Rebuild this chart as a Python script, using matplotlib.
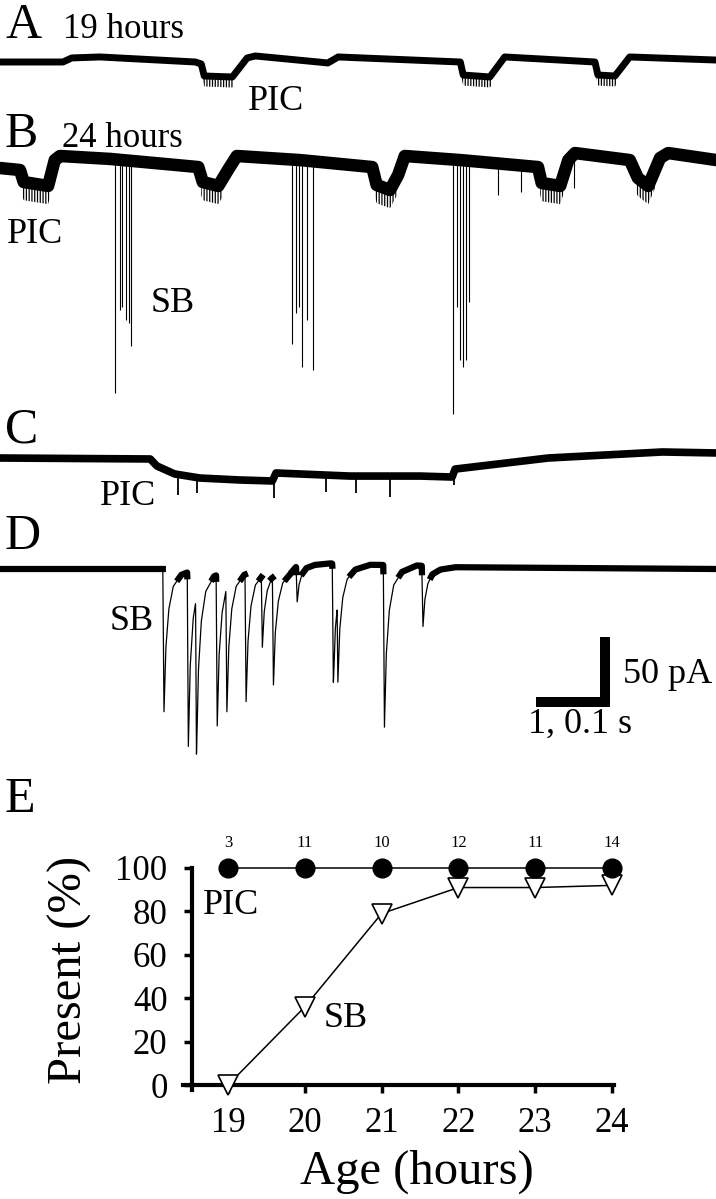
# 电生理记录 A-D 以及 E 中 PIC / SB 出现比例随发育时间的变化
import numpy as np
import matplotlib.pyplot as plt

plt.rcParams['font.family'] = ['Liberation Serif', 'DejaVu Serif']
plt.rcParams['hatch.linewidth'] = 0.9

W, H = 716, 1199          # 输出像素
PX_PA = 70 / 50.0         # 50 pA 竖条 = 70 px
PX_S = 74.0               # A-C: 1 s 横条 = 74 px
PX_MS = 0.74              # D: 0.1 s 横条 = 74 px

# ---------------- 数据 ----------------
# A 19 hours: 折线 (s, pA)
a_t = [0.00, 0.85, 0.97, 1.35, 2.64, 2.72, 2.76, 3.14, 3.34, 3.45, 4.30, 4.43, 4.57, 6.22, 6.26, 6.62, 6.82,
       8.04, 8.08, 8.31, 8.51, 9.68]
a_i = [0.0, 0.0, 2.9, 3.6, 0.0, -1.4, -10.0, -10.7, 2.9, 4.3, 0.0, -0.7, 3.6, 0.0, -9.3, -10.7, 3.6,
       0.0, -9.3, -10.0, 3.6, 1.4]
a_dips = [(2.73, 3.16), (6.23, 6.64), (8.05, 8.33)]

# B 24 hours: 基线折线 (s, pA)
b_t = [0.00, 0.27, 0.32, 0.65, 0.74, 0.81, 1.49, 2.68, 2.74, 2.95, 3.08, 3.20, 4.05, 5.03, 5.09, 5.27, 5.38, 5.47,
       6.22, 7.27, 7.32, 7.57, 7.68, 7.77, 8.51, 8.62, 8.76, 8.92, 9.03, 9.68]
b_i = [-3.6, -5.0, -13.6, -16.4, 2.1, 5.0, 2.9, -2.9, -13.6, -16.4, -5.0, 5.0, 2.1, -2.9, -15.7, -19.3, -8.6, 5.0,
       2.1, -2.9, -14.3, -16.4, 2.1, 7.1, 2.1, -10.7, -16.4, 3.6, 7.1, 2.1]
b_dips = [(0.30, 0.67), (2.72, 3.00), (5.07, 5.36), (7.30, 7.62), (8.60, 8.86)]
# B 中的 SB 尖峰 (s, 幅度 pA)
b_spike_t = [1.55, 1.62, 1.65, 1.70, 1.74, 1.77,
             3.95, 4.00, 4.04, 4.08, 4.15, 4.23,
             6.12, 6.18, 6.22, 6.26, 6.30, 6.34,
             6.73, 7.04, 7.76]
b_spike_amp = [164, 105, 103, 112, 114, 131,
               129, 107, 103, 146, 112, 148,
               179, 103, 141, 146, 141, 99,
               23, 21, 18]

# C: 折线 (s, pA) 和小尖峰 (s, 最低点 pA)
c_t = [0.00, 2.03, 2.12, 2.36, 2.70, 3.24, 3.68, 3.73, 4.73, 5.68, 6.11, 6.15, 7.41, 8.95, 9.68]
c_i = [0.0, -0.7, -5.7, -11.4, -14.3, -15.7, -16.4, -10.7, -12.9, -12.9, -13.6, -7.9, 0.0, 4.3, 3.6]
c_spike_t = [2.41, 2.66, 3.70, 4.41, 4.81, 5.27, 6.14]
c_spike_min = [-26.4, -25.0, -28.6, -24.3, -25.0, -27.9, -19.3]

# D: 基线 (ms, pA) 和 SB 事件 (ms, 幅度 pA)
d_base_t = [0, 392, 401, 446, 469, 513, 531, 567, 581, 968]
d_base_i = [0.0, 0.0, 4.0, 4.0, 3.0, 3.0, 2.5, 2.5, 1.4, 0.0]
d_ev_t = [220, 253, 264, 292, 305, 331, 353, 368, 400, 449, 455, 518, 570]
d_ev_amp = [104, 127, 134, 113, 104, 96, 56, 83, 28, 86, 86, 116, 44]
# 单个事件的形状 (ms, 相对幅度)
kern_t = [0, 1.5, 4, 8, 14, 25, 45]
kern_f = [0, 1.0, 0.55, 0.28, 0.12, 0.04, 0.0]

# E
ages = [19, 20, 21, 22, 23, 24]
pic_pct = [100, 100, 100, 100, 100, 100]
sb_pct = [0, 36, 79, 91, 91, 92]
n_cells = [3, 11, 10, 12, 11, 14]


def fx(x):
    return x / W


def fy(y):
    return 1 - y / H


def trace_ax(top, bottom, base, xmax):
    # 一条记录占整幅宽度, y 轴单位为 pA
    ax = fig.add_axes([0, 1 - bottom / H, 1, (bottom - top) / H])
    ax.set_xlim(0, xmax)
    ax.set_ylim(-(bottom - base) / PX_PA, (base - top) / PX_PA)
    ax.axis('off')
    return ax


def fuzz(ax, t, i, dips, depth):
    # PIC 平台段下方密集的小噪声, 用竖线阴影表示
    for t0, t1 in dips:
        tt = np.linspace(t0, t1, 60)
        yy = np.interp(tt, t, i)
        ax.fill_between(tt, yy, yy - depth, facecolor='none', edgecolor='black',
                        hatch='||||||', lw=0)


fig = plt.figure(figsize=(W / 100, H / 100), dpi=100)

# ---------------- A ----------------
axA = trace_ax(40, 100, 62, W / PX_S)
axA.plot(a_t, a_i, color='black', lw=5, solid_joinstyle='round')
fuzz(axA, a_t, a_i, a_dips, 7.5)

# ---------------- B ----------------
axB = trace_ax(125, 420, 163, W / PX_S)
axB.plot(b_t, b_i, color='black', lw=9, solid_joinstyle='round')
fuzz(axB, b_t, b_i, b_dips, 13)
tops = np.interp(b_spike_t, b_t, b_i)
axB.vlines(b_spike_t, -np.array(b_spike_amp), tops, color='black', lw=0.8)

# ---------------- C ----------------
axC = trace_ax(430, 520, 458, W / PX_S)
axC.plot(c_t, c_i, color='black', lw=5.5, solid_joinstyle='round')
axC.vlines(c_spike_t, c_spike_min, np.interp(c_spike_t, c_t, c_i), color='black', lw=1.3)

# ---------------- D ----------------
axD = trace_ax(540, 800, 569, W / PX_MS)
t = np.linspace(0, W / PX_MS, 6000)
ev = np.zeros_like(t)
for t0, amp in zip(d_ev_t, d_ev_amp):
    dt = t - t0
    k = np.where(dt >= 0, np.interp(dt, kern_t, kern_f), 0)
    ev = np.maximum(ev, amp * k)
d_i = np.interp(t, d_base_t, d_base_i) - ev
axD.plot(t, d_i, color='black', lw=0.9)
axD.plot(t, np.where(ev < 7, d_i, np.nan), color='black', lw=4.5)

# 标尺: 50 pA, 1 s (A-C) / 0.1 s (D)
sx0, sx1 = 536 / PX_MS, 605 / PX_MS
sy0, sy1 = -(702.5 - 569) / PX_PA, -(637 - 569) / PX_PA
axD.plot([sx0, sx1, sx1], [sy0, sy0, sy1], color='black', lw=7.2,
         solid_joinstyle='miter', solid_capstyle='butt')

# 面板字母和标注 (像素位置, 文字基线)
for lab, y in zip('ABCDE', [38, 147, 443, 549, 812]):
    fig.text(fx(5), fy(y), lab, fontsize=36, va='baseline', ha='left')
fig.text(fx(63), fy(38), '19 hours', fontsize=25, va='baseline')
fig.text(fx(62), fy(147), '24 hours', fontsize=25, va='baseline')
fig.text(fx(248), fy(110), 'PIC', fontsize=26, va='baseline')
fig.text(fx(7), fy(243), 'PIC', fontsize=26, va='baseline')
fig.text(fx(151), fy(312), 'SB', fontsize=26, va='baseline')
fig.text(fx(100), fy(505), 'PIC', fontsize=26, va='baseline')
fig.text(fx(110), fy(630), 'SB', fontsize=26, va='baseline')
fig.text(fx(623), fy(683), '50 pA', fontsize=26, va='baseline')
fig.text(fx(528), fy(733), '1, 0.1 s', fontsize=26, va='baseline')

# ---------------- E ----------------
axE = fig.add_axes([fx(150), fy(1100), (640 - 150) / W, (1100 - 820) / H])
axE.set_xlim(19 - 78 / 76.8, 24 + 28 / 76.8)
axE.set_ylim(-15 / 2.17, 100 + 48 / 2.17)
axE.plot(ages, sb_pct, color='black', lw=1.1, marker='v', ms=14,
         mfc='white', mec='black', mew=1.2, zorder=3)
axE.plot(ages, pic_pct, color='black', lw=1.1, marker='o', ms=13.5,
         mfc='black', mec='black', zorder=4)
for a, n in zip(ages, n_cells):
    axE.text(a, 111.5, str(n), ha='center', va='center', fontsize=12)
axE.text(18.67, 78.8, 'PIC', fontsize=26, va='baseline', ha='left')
axE.text(20.25, 26.7, 'SB', fontsize=26, va='baseline', ha='left')

for s in ['top', 'right']:
    axE.spines[s].set_visible(False)
axE.spines['left'].set_position(('data', 18.53))
axE.spines['bottom'].set_position(('data', 0))
axE.spines['left'].set_bounds(-2.3, 100)
axE.spines['bottom'].set_bounds(18.41, 24.03)
for s in ['left', 'bottom']:
    axE.spines[s].set_linewidth(3)
axE.set_xticks(ages)
axE.set_yticks([0, 20, 40, 60, 80, 100])
axE.tick_params(axis='both', width=2.5, length=5.5, labelsize=25)
axE.tick_params(axis='x', pad=10)
axE.tick_params(axis='y', pad=12)
axE.patch.set_visible(False)

fig.text(fx(70), fy(970), 'Present (%)', fontsize=35, rotation=90, ha='center', va='center')
fig.text(fx(417), fy(1172), 'Age (hours)', fontsize=35, ha='center', va='center')

plt.savefig('out.png', dpi=100)
